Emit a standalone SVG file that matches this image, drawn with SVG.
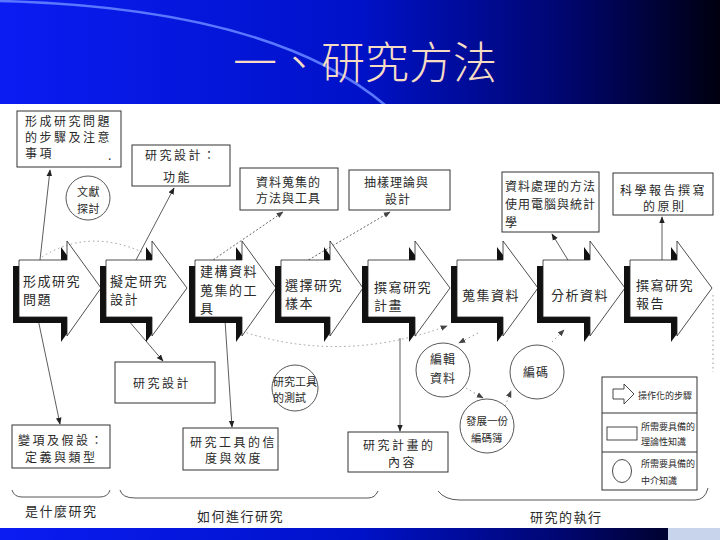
<svg xmlns="http://www.w3.org/2000/svg" width="720" height="540" viewBox="0 0 720 540">
<defs>
<linearGradient id="bg" x1="0" y1="0" x2="1" y2="0">
<stop offset="0" stop-color="#0a1cf2"/>
<stop offset="0.5" stop-color="#0012c8"/>
<stop offset="0.78" stop-color="#000670"/>
<stop offset="1" stop-color="#000010"/>
</linearGradient>
<marker id="ah" viewBox="0 0 10 10" refX="9" refY="5" markerWidth="7" markerHeight="7" markerUnits="userSpaceOnUse" orient="auto"><path d="M0,1 L10,5 L0,9 Z" fill="#222"/></marker>
<marker id="ahg" viewBox="0 0 10 10" refX="9" refY="5" markerWidth="7" markerHeight="7" markerUnits="userSpaceOnUse" orient="auto"><path d="M0,1 L10,5 L0,9 Z" fill="#444"/></marker>
</defs>
<style>
.box{fill:#fff;stroke:#333;stroke-width:1}
.cir{fill:#fff;stroke:#444;stroke-width:0.9}
.t{font-family:"Noto Sans CJK TC","Noto Sans CJK SC",sans-serif;fill:#2a2a2a}
.s12{font-size:12px;letter-spacing:2.5px}
.s12b{font-size:12px;letter-spacing:1px}
.s13{font-size:13px;letter-spacing:1.5px}
.s11{font-size:11px;letter-spacing:0.5px}
.s10{font-size:10.5px}
.s9{font-size:9px}
.con{fill:none;stroke:#333;stroke-width:0.8}
.dash{fill:none;stroke:#555;stroke-width:0.9;stroke-dasharray:2 2}
.dot{fill:none;stroke:#999;stroke-width:1;stroke-dasharray:1.5 3}
.sh{fill:#111}
.ch{fill:#fff;stroke:#222;stroke-width:0.8}
</style>
<rect x="0" y="0" width="720" height="540" fill="url(#bg)"/>
<path d="M0,1 Q270,8 385,105" fill="none" stroke="#5a78ff" stroke-width="2.5"/>
<text x="365" y="79" text-anchor="middle" font-family="Noto Sans CJK TC, Noto Sans CJK SC, sans-serif" font-size="44" font-weight="300" fill="#f7dcc4">一、研究方法</text>
<rect x="0" y="104" width="720" height="424" fill="#fff"/>
<rect x="668" y="528" width="52" height="12" fill="#c8d4ec"/>

<g id="connectors">
<path class="dot" d="M42,257 Q88,228 142,252"/>
<path class="dot" d="M238,330 Q340,365 447,326" marker-end="url(#ahg)"/>
<path class="dot" d="M478,333 L459,343" marker-end="url(#ahg)"/>
<path class="dot" d="M466,388 L483,398" marker-end="url(#ahg)"/>
<path class="dot" d="M505,406 L511,391" marker-end="url(#ahg)"/>
<path class="dot" d="M552,342 L564,330" marker-end="url(#ahg)"/>
<path class="dot" d="M713,295 L713,372"/>
<path class="con" d="M40,260 L50,170" marker-end="url(#ah)"/>
<path class="con" d="M136,260 L174,188" marker-end="url(#ah)"/>
<path class="dash" d="M210,262 L283,212" marker-end="url(#ahg)"/>
<path class="dash" d="M305,262 L390,212" marker-end="url(#ahg)"/>
<path class="con" d="M571,265 L552,234" marker-end="url(#ah)"/>
<path class="con" d="M662,268 L662,217" marker-end="url(#ah)"/>
<path class="con" d="M38,319 L60,424" marker-end="url(#ah)"/>
<path class="con" d="M128,320 L163,361" marker-end="url(#ah)"/>
<path class="con" d="M225,320 L232,427" marker-end="url(#ah)"/>
<path class="con" d="M400,338 L400,431" marker-end="url(#ah)"/>
</g>

<g id="n-box1"><rect class="box" x="17" y="111" width="104" height="56"/>
<text class="t s12" x="25" y="126">形成研究問題<tspan x="25" dy="16">的步驟及注意</tspan><tspan x="25" dy="16">事項</tspan><tspan x="108" dy="2">.</tspan></text></g>

<g id="n-box2"><rect class="box" x="132" y="145" width="98" height="41"/>
<text class="t s12" x="145" y="160">研究設計：<tspan x="163" dy="22">功能</tspan></text></g>

<g id="n-lit"><circle class="cir" cx="88" cy="198" r="22"/>
<text class="t s11" x="77" y="196">文獻<tspan x="77" dy="17">探討</tspan></text></g>

<g id="n-box4"><rect class="box" x="240" y="168" width="98" height="42"/>
<text class="t s12b" x="256" y="187">資料蒐集的<tspan x="256" dy="16">方法與工具</tspan></text></g>

<g id="n-box5"><rect class="box" x="349" y="170" width="101" height="40"/>
<text class="t s12b" x="364" y="187">抽樣理論與<tspan x="385" dy="17">設計</tspan></text></g>

<g id="n-box6"><rect class="box" x="502" y="172" width="97" height="60"/>
<text class="t s12b" x="505" y="191">資料處理的方法<tspan x="505" dy="18">使用電腦與統計</tspan><tspan x="505" dy="18">學</tspan></text></g>

<g id="n-box7"><rect class="box" x="613" y="173" width="100" height="42"/>
<text class="t s12" x="620" y="195">科學報告撰寫<tspan x="643" dy="16">的原則</tspan></text></g>

<g id="c1"><polygon class="sh" points="13,266 61,266 61,247 95,294 61,342 61,323 13,323"/>
<polygon class="ch" points="19,260 67,260 67,241 101,288 67,336 67,317 19,317"/>
<text class="t s13" x="23" y="286">形成研究<tspan x="23" dy="18">問題</tspan></text></g>
<g id="c2"><polygon class="sh" points="100,266 146,266 146,247 181,294 146,342 146,323 100,323"/>
<polygon class="ch" points="106,260 152,260 152,241 187,288 152,336 152,317 106,317"/>
<text class="t s13" x="110" y="286">擬定研究<tspan x="110" dy="18">設計</tspan></text></g>
<g id="c3"><polygon class="sh" points="189,266 236,266 236,247 270,294 236,342 236,323 189,323"/>
<polygon class="ch" points="195,260 242,260 242,241 276,288 242,336 242,317 195,317"/>
<text class="t s13" x="200" y="276">建構資料<tspan x="200" dy="19">蒐集的工</tspan><tspan x="200" dy="18">具</tspan></text></g>
<g id="c4"><polygon class="sh" points="275,266 324,266 324,247 357,294 324,342 324,323 275,323"/>
<polygon class="ch" points="281,260 330,260 330,241 363,288 330,336 330,317 281,317"/>
<text class="t s13" x="285" y="290">選擇研究<tspan x="285" dy="18">樣本</tspan></text></g>
<g id="c5"><polygon class="sh" points="362,266 409,266 409,247 444,294 409,342 409,323 362,323"/>
<polygon class="ch" points="368,260 415,260 415,241 450,288 415,336 415,317 368,317"/>
<text class="t s13" x="374" y="292">撰寫研究<tspan x="374" dy="18">計畫</tspan></text></g>
<g id="c6"><polygon class="sh" points="451,266 497,266 497,247 532,294 497,342 497,323 451,323"/>
<polygon class="ch" points="457,260 503,260 503,241 538,288 503,336 503,317 457,317"/>
<text class="t s13" x="462" y="300">蒐集資料</text></g>
<g id="c7"><polygon class="sh" points="537,266 584,266 584,247 619,294 584,342 584,323 537,323"/>
<polygon class="ch" points="543,260 590,260 590,241 625,288 590,336 590,317 543,317"/>
<text class="t s13" x="551" y="300">分析資料</text></g>
<g id="c8"><polygon class="sh" points="624,266 671,266 671,247 706,294 671,342 671,323 624,323"/>
<polygon class="ch" points="630,260 677,260 677,241 712,288 677,336 677,317 630,317"/>
<text class="t s13" x="636" y="290">撰寫研究<tspan x="636" dy="18">報告</tspan></text></g>

<g id="n-design"><rect class="box" x="115" y="362" width="100" height="41"/>
<text class="t s12" x="133" y="388">研究設計</text></g>

<g id="n-tooltest"><circle class="cir" cx="295" cy="388" r="23"/>
<text class="t s11" x="273" y="386" style="letter-spacing:0">研究工具<tspan x="273" dy="16">的測試</tspan></text></g>

<g id="n-var"><rect class="box" x="12" y="425" width="98" height="43"/>
<text class="t s12" x="18" y="445">變項及假設：<tspan x="25" dy="17">定義與類型</tspan></text></g>

<g id="n-rel"><rect class="box" x="183" y="428" width="95" height="42"/>
<text class="t s12" x="190" y="447">研究工具的信<tspan x="205" dy="16">度與效度</tspan></text></g>

<g id="n-plan"><rect class="box" x="348" y="432" width="100" height="40"/>
<text class="t s12" x="363" y="450">研究計畫的<tspan x="388" dy="17">內容</tspan></text></g>

<g id="n-edit"><circle class="cir" cx="443" cy="370" r="27"/>
<text class="t s12b" x="430" y="364">編輯<tspan x="430" dy="19">資料</tspan></text></g>

<g id="n-code"><circle class="cir" cx="537" cy="372" r="27"/>
<text class="t s12b" x="523" y="377">編碼</text></g>

<g id="n-book"><circle class="cir" cx="487" cy="426" r="27"/>
<text class="t s10" x="466" y="425">發展一份<tspan x="471" dy="17">編碼簿</tspan></text></g>

<g id="legend"><rect class="box" x="602" y="377" width="95" height="113"/>
<line x1="602" y1="413" x2="697" y2="413" stroke="#333" stroke-width="1"/>
<line x1="602" y1="452" x2="697" y2="452" stroke="#333" stroke-width="1"/>
<polygon points="613,389 624,389 624,384 634,394 624,404 624,399 613,399" fill="#fff" stroke="#333" stroke-width="0.9"/>
<text class="t s9" x="638" y="399">操作化的步驟</text>
<rect x="607" y="427" width="30" height="13" fill="#fff" stroke="#333" stroke-width="0.9"/>
<text class="t s9" x="641" y="430">所需要具備的<tspan x="641" dy="15">理論性知識</tspan></text>
<ellipse cx="622" cy="471" rx="9.5" ry="11.5" fill="#fff" stroke="#333" stroke-width="0.9"/>
<text class="t s9" x="641" y="467">所需要具備的<tspan x="641" dy="17">中介知識</tspan></text></g>

<g id="brackets" fill="none" stroke="#444" stroke-width="0.9">
<path d="M12,490 Q14,497 22,497 L100,497 Q108,497 110,490"/>
<path d="M120,490 Q122,498 135,498 L368,498 Q375,498 378,491"/>
<path d="M438,491 Q445,500 460,500 L695,500 Q705,500 708,488"/>
</g>
<g id="labels">
<text class="t s13" x="25" y="516">是什麼研究</text>
<text class="t s13" x="197" y="521">如何進行研究</text>
<text class="t s13" x="530" y="522">研究的執行</text>
</g>
</svg>
